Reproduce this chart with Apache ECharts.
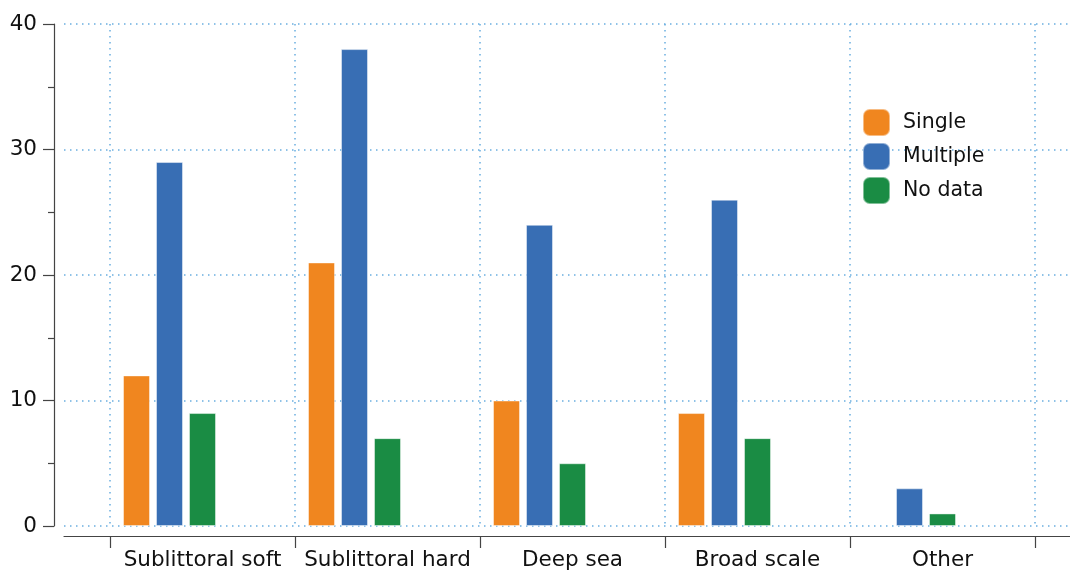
<!DOCTYPE html>
<html>
<head>
<meta charset="utf-8">
<script src="https://cdn.jsdelivr.net/npm/echarts@6/dist/echarts.min.js"></script>
<style>
html,body{margin:0;padding:0;background:#fff;}
#chart{width:1070px;height:572px;}
</style>
</head>
<body>
<div id="chart"></div>
<script>
const categories = ['Sublittoral soft', 'Sublittoral hard', 'Deep sea', 'Broad scale', 'Other'];
const singleValues = [12, 21, 10, 9, null];
const multipleValues = [29, 38, 24, 26, 3];
const noDataValues = [9, 7, 5, 7, 1];
const yTicks = [0, 10, 20, 30, 40];

const FONT = 'DejaVu Sans';
const gridColor = '#6aaee0';
const axisColor = '#444';
const colors = {single: '#f0861f', multiple: '#386eb4', nodata: '#1a8c44'};

function barSeries(name, data, color) {
  return {
    name: name, type: 'bar', xAxisIndex: 1, yAxisIndex: 1,
    data: data, barWidth: 27, barGap: '22.2%',
    itemStyle: {color: color, borderColor: 'rgba(255,255,255,0.45)', borderWidth: 1},
    silent: true
  };
}

const chart = echarts.init(document.getElementById('chart'), null, {renderer: 'canvas'});
chart.setOption({
  animation: false,
  backgroundColor: '#fff',
  textStyle: {fontFamily: FONT},
  grid: [
    {left: 64, right: 0, top: 24, bottom: 46},
    {left: 110, right: 35, top: 24, bottom: 46}
  ],
  legend: {
    orient: 'vertical', left: 857, top: 103,
    itemWidth: 27, itemHeight: 27, itemGap: 5,
    icon: 'roundRect',
    data: ['Single', 'Multiple', 'No data'],
    textStyle: {fontFamily: FONT, fontSize: 20.5, color: '#111', padding: [0, 0, 0, 8]},
    selectedMode: false
  },
  xAxis: [
    {
      gridIndex: 0, type: 'value', min: 0, max: 1, offset: 10,
      axisLine: {show: true, onZero: false, lineStyle: {color: axisColor, width: 1.2}},
      axisTick: {show: false}, axisLabel: {show: false}, splitLine: {show: false}
    },
    {
      gridIndex: 1, type: 'category', data: categories, boundaryGap: true, offset: 10,
      axisLine: {show: false, onZero: false},
      axisTick: {show: true, length: 12, lineStyle: {color: axisColor, width: 1.2}},
      axisLabel: {fontFamily: FONT, fontSize: 21.5, color: '#111', margin: 13, interval: 0},
      splitLine: {show: true, lineStyle: {color: gridColor, type: [1.5, 4.5], width: 1.5}}
    }
  ],
  yAxis: [
    {
      gridIndex: 0, type: 'value', min: yTicks[0], max: yTicks[yTicks.length - 1], interval: 10, offset: 10,
      axisLine: {show: true, onZero: false, lineStyle: {color: axisColor, width: 1.2}},
      axisTick: {show: true, length: 11, lineStyle: {color: axisColor, width: 1.2}},
      minorTick: {show: true, splitNumber: 2, length: 6, lineStyle: {color: axisColor, width: 1.2}},
      axisLabel: {fontFamily: FONT, fontSize: 21.5, color: '#111', margin: 17},
      splitLine: {show: true, lineStyle: {color: gridColor, type: [1.5, 4.5], width: 1.5}}
    },
    {
      gridIndex: 1, type: 'value', min: 0, max: 40, interval: 10,
      axisLine: {show: false, onZero: false}, axisTick: {show: false}, axisLabel: {show: false}, splitLine: {show: false}
    }
  ],
  series: [
    barSeries('Single', singleValues, colors.single),
    barSeries('Multiple', multipleValues, colors.multiple),
    barSeries('No data', noDataValues, colors.nodata),
    barSeries('pad1', [null, null, null, null, null], '#fff'),
    barSeries('pad2', [null, null, null, null, null], '#fff')
  ]
});
</script>
</body>
</html>
